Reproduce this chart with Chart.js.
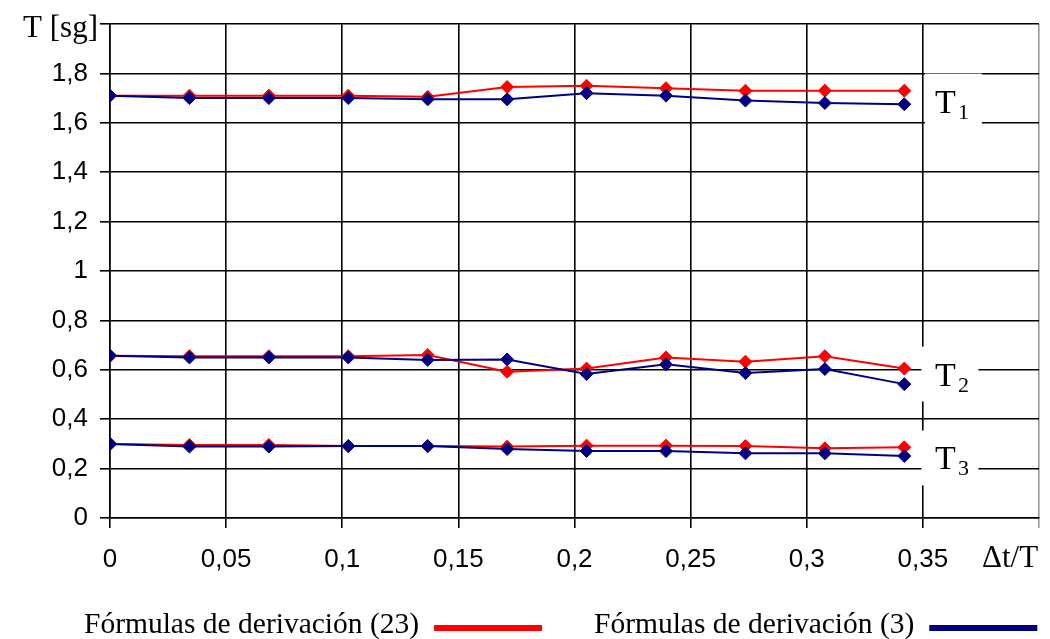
<!DOCTYPE html>
<html>
<head>
<meta charset="utf-8">
<script src="https://cdn.jsdelivr.net/npm/chart.js@4.4.1/dist/chart.umd.min.js"></script>
<style>
  html, body { margin: 0; padding: 0; background: #fff; }
  #wrap { width: 1050px; height: 639px; position: relative; }
</style>
</head>
<body>
<div id="wrap"><canvas id="myLine"></canvas></div>
<script>
// Δt/T values (x axis)
var dtT = [0, 0.0342, 0.0684, 0.1026, 0.1368, 0.171, 0.2052, 0.2394, 0.2736, 0.3078, 0.342];

// Fórmulas de derivación (23) - red
var f23_T1 = [1.71, 1.71, 1.71, 1.71, 1.705, 1.745, 1.75, 1.74, 1.73, 1.73, 1.73];
var f23_T2 = [0.657, 0.655, 0.655, 0.655, 0.66, 0.592, 0.605, 0.65, 0.633, 0.655, 0.605];
var f23_T3 = [0.30, 0.296, 0.296, 0.291, 0.291, 0.289, 0.293, 0.293, 0.291, 0.282, 0.286];

// Fórmulas de derivación (3) - navy
var f3_T1 = [1.71, 1.70, 1.70, 1.70, 1.695, 1.695, 1.72, 1.71, 1.69, 1.68, 1.675];
var f3_T2 = [0.657, 0.65, 0.65, 0.65, 0.64, 0.642, 0.583, 0.622, 0.587, 0.603, 0.542];
var f3_T3 = [0.30, 0.289, 0.289, 0.291, 0.291, 0.279, 0.271, 0.271, 0.262, 0.262, 0.251];

var legendNames = ['Fórmulas de derivación (23)', 'Fórmulas de derivación (3)'];
var curveNames = ['1', '2', '3'];
var curveAt = [1.69, 0.585, 0.245];   // y value where each T label sits

var RED = '#ff0000', NAVY = '#000080';

function pts(ys){
  var out = [];
  for (var i = 0; i < dtT.length; i++) out.push({x: dtT[i], y: ys[i]});
  return out;
}
function ds(label, ys, color, order){
  return {
    label: label, data: pts(ys),
    borderColor: color, backgroundColor: color,
    borderWidth: 2, pointStyle: 'rectRot', pointRadius: 6.5,
    pointHoverRadius: 6.5, pointBorderWidth: 1,
    tension: 0, fill: false, order: order
  };
}
function comma(v){
  return String(Number(v.toFixed(2))).replace('.', ',');
}

var serif = '"Liberation Serif", "Times New Roman", serif';

var extras = {
  id: 'extras',
  beforeDatasetsDraw: function(chart){
    var c = chart.ctx, x = chart.scales.x, y = chart.scales.y;
    var x0 = x.getPixelForValue(0.35);
    c.save();
    for (var i = 0; i < curveAt.length; i++){
      var cy = y.getPixelForValue(curveAt[i]);
      c.fillStyle = '#fff';
      c.fillRect(x0 + (i === 0 ? 2 : -1.5), cy - 27, 57, 55);
      c.fillStyle = '#000';
      c.textBaseline = 'alphabetic';
      c.textAlign = 'left';
      c.font = '34px ' + serif;
      c.fillText('T', x0 + 12, cy + 12);
      c.font = '22px ' + serif;
      c.fillText(curveNames[i], x0 + 35, cy + 18);
    }
    c.restore();
  },
  afterDraw: function(chart){
    var c = chart.ctx;
    c.save();
    c.fillStyle = '#000';
    c.font = '31px ' + serif;
    c.textAlign = 'right';
    c.textBaseline = 'alphabetic';
    c.fillText('T [sg]', 98, 37);
    c.textAlign = 'left';
    c.fillText('\u0394t/T', 982, 567);
    // legend: text then line sample
    var lx = [84, 594], cols = [RED, NAVY];
    c.font = '29.5px ' + serif;
    for (var i = 0; i < legendNames.length; i++){
      c.fillStyle = '#000';
      c.fillText(legendNames[i], lx[i], 633);
      var w = c.measureText(legendNames[i]).width;
      c.strokeStyle = cols[i];
      c.lineWidth = 6;
      c.beginPath();
      c.moveTo(lx[i] + w + 15, 628);
      c.lineTo(lx[i] + w + 123, 628);
      c.stroke();
    }
    c.restore();
  }
};

var ctx = document.getElementById('myLine').getContext('2d');
var myChart = new Chart(ctx, {
  type: 'line',
  data: {
    datasets: [
      ds(legendNames[0] + ' T1', f23_T1, RED, 1),
      ds(legendNames[0] + ' T2', f23_T2, RED, 1),
      ds(legendNames[0] + ' T3', f23_T3, RED, 1),
      ds(legendNames[1] + ' T1', f3_T1, NAVY, 0),
      ds(legendNames[1] + ' T2', f3_T2, NAVY, 0),
      ds(legendNames[1] + ' T3', f3_T3, NAVY, 0)
    ]
  },
  options: {
    responsive: true,
    maintainAspectRatio: false,
    animation: false,
    layout: { padding: { left: 0, right: 11, top: 24, bottom: 0 } },
    plugins: {
      legend: { display: false },
      tooltip: { enabled: false }
    },
    scales: {
      x: {
        type: 'linear', min: 0, max: 0.4,
        afterFit: function(s){ s.height = 121; s.paddingLeft = 0; s.paddingRight = 0; },
        border: { color: '#000', width: 1.5 },
        grid: {
          color: function(c){ return c.tick && c.tick.value > 0.39 ? '#999' : '#000'; },
          lineWidth: 1.6, tickLength: 10
        },
        ticks: {
          stepSize: 0.05, color: '#000', padding: 16,
          font: { family: '"Liberation Sans", Arial, sans-serif', size: 26 },
          maxRotation: 0, autoSkip: false,
          callback: function(v){ return v > 0.39 ? '' : comma(v); }
        }
      },
      y: {
        min: 0, max: 2,
        afterFit: function(s){ s.width = 110; s.paddingTop = 0; s.paddingBottom = 0; },
        border: { color: '#000', width: 1.5 },
        grid: { color: '#000', lineWidth: 1.6, tickLength: 10 },
        ticks: {
          stepSize: 0.2, color: '#000', padding: 12,
          font: { family: '"Liberation Sans", Arial, sans-serif', size: 26 },
          callback: function(v){ return v > 1.99 ? '' : comma(v); }
        }
      }
    }
  },
  plugins: [extras]
});
</script>
</body>
</html>
